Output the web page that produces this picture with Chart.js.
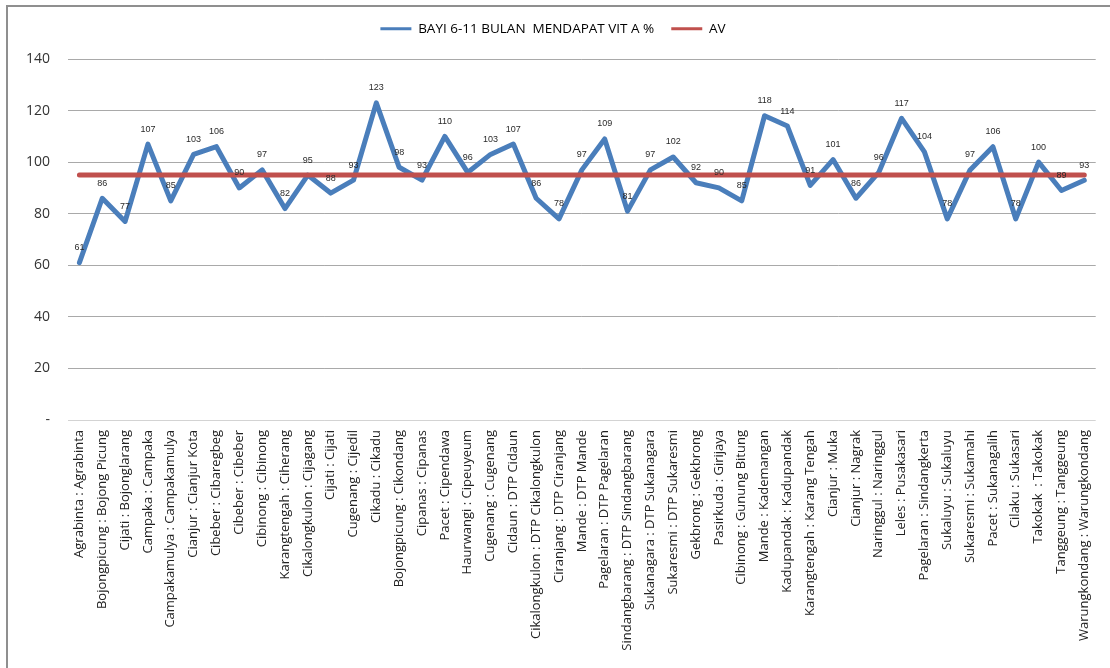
<!DOCTYPE html>
<html>
<head>
<meta charset="utf-8">
<script src="https://cdn.jsdelivr.net/npm/chart.js@4/dist/chart.umd.min.js"></script>
<style>
  html, body { margin: 0; padding: 0; background: #fff; overflow: hidden; }
  #bingkai {
    position: absolute; left: 6px; top: 5px; width: 1120px; height: 680px;
    border-top: 2px solid #8f8f8f; border-left: 2px solid #8f8f8f;
  }
  #grafik { position: absolute; left: 0; top: 0; }
</style>
</head>
<body>
<div id="bingkai"></div>
<canvas id="grafik" width="1110" height="668"></canvas>
<script>
// Puskesmas (kecamatan : puskesmas)
var puskesmas = [
  "Agrabinta : Agrabinta", "Bojongpicung : Bojong Picung", "Cijati : Bojonglarang",
  "Campaka : Campaka", "Campakamulya : Campakamulya", "Cianjur : Cianjur Kota",
  "Cibeber : Cibaregbeg", "Cibeber : Cibeber", "Cibinong : Cibinong",
  "Karangtengah : Ciherang", "Cikalongkulon : Cijagang", "Cijati : Cijati",
  "Cugenang : Cijedil", "Cikadu : Cikadu", "Bojongpicung : Cikondang",
  "Cipanas : Cipanas", "Pacet : Cipendawa", "Haurwangi : Cipeuyeum",
  "Cugenang : Cugenang", "Cidaun : DTP Cidaun", "Cikalongkulon : DTP Cikalongkulon",
  "Ciranjang : DTP Ciranjang", "Mande : DTP Mande", "Pagelaran : DTP Pagelaran",
  "Sindangbarang : DTP Sindangbarang", "Sukanagara : DTP Sukanagara", "Sukaresmi : DTP Sukaresmi",
  "Gekbrong : Gekbrong", "Pasirkuda : Girijaya", "Cibinong : Gunung Bitung",
  "Mande : Kademangan", "Kadupandak : Kadupandak", "Karangtengah : Karang Tengah",
  "Cianjur : Muka", "Cianjur : Nagrak", "Naringgul : Naringgul",
  "Leles : Pusakasari", "Pagelaran : Sindangkerta", "Sukaluyu : Sukaluyu",
  "Sukaresmi : Sukamahi", "Pacet : Sukanagalih", "Cilaku : Sukasari",
  "Takokak  : Takokak", "Tanggeung : Tanggeung", "Warungkondang : Warungkondang"
];

// Cakupan bayi 6-11 bulan mendapat vitamin A (%)
var cakupanVitA = [
  61, 86, 77, 107, 85, 103, 106, 90, 97, 82,
  95, 88, 93, 123, 98, 93, 110, 96, 103, 107,
  86, 78, 97, 109, 81, 97, 102, 92, 90, 85,
  118, 114, 91, 101, 86, 96, 117, 104, 78, 97,
  106, 78, 100, 89, 93
];

// Garis AV (target)
var garisAV = [
  95, 95, 95, 95, 95, 95, 95, 95, 95, 95,
  95, 95, 95, 95, 95, 95, 95, 95, 95, 95,
  95, 95, 95, 95, 95, 95, 95, 95, 95, 95,
  95, 95, 95, 95, 95, 95, 95, 95, 95, 95,
  95, 95, 95, 95, 95
];

var labelSumbuY = ["-", "20", "40", "60", "80", "100", "120", "140"];

var warna = { biru: "#4a7ebb", merah: "#c0504d", grid: "#a9a9a9", gridNol: "#d3d3d3", teks: "#333333" };

// label angka di atas tiap titik garis biru
var labelNilai = {
  id: "labelNilai",
  afterDatasetsDraw: function (chart) {
    var ctx = chart.ctx;
    var meta = chart.getDatasetMeta(0);
    var data = chart.data.datasets[0].data;
    ctx.save();
    ctx.font = "9px 'Liberation Sans', Arial, sans-serif";
    ctx.fillStyle = "#2a2a2a";
    ctx.textAlign = "center";
    ctx.textBaseline = "middle";
    meta.data.forEach(function (titik, i) {
      ctx.fillText(String(data[i]), titik.x, titik.y - 15);
    });
    ctx.restore();
  }
};

// tinggi legenda dibuat tetap
var tinggiLegenda = {
  id: "tinggiLegenda",
  beforeInit: function (chart) {
    var legenda = chart.legend;
    if (!legenda) return;
    var fitAsli = legenda.fit;
    legenda.fit = function () {
      fitAsli.call(this);
      this.height = 54;
    };
  }
};

new Chart(document.getElementById("grafik").getContext("2d"), {
  type: "line",
  data: {
    labels: puskesmas,
    datasets: [{
      label: "BAYI 6-11 BULAN  MENDAPAT VIT A %",
      data: cakupanVitA,
      borderColor: warna.biru,
      backgroundColor: warna.biru,
      borderWidth: 5,
      borderCapStyle: "round",
      borderJoinStyle: "round",
      pointRadius: 0,
      tension: 0,
      order: 1
    }, {
      label: "AV",
      data: garisAV,
      borderColor: warna.merah,
      backgroundColor: warna.merah,
      borderWidth: 5,
      borderCapStyle: "round",
      pointRadius: 0,
      tension: 0,
      order: 0
    }]
  },
  options: {
    responsive: false,
    animation: false,
    layout: { padding: { left: 6, right: 10, top: 5, bottom: 0 } },
    plugins: {
      tooltip: { enabled: false },
      legend: {
        position: "top",
        labels: {
          padding: 17,
          boxWidth: 31,
          boxHeight: 3,
          color: "#222",
          font: { family: "'Open Sans', sans-serif", size: 13.5 },
          generateLabels: function (chart) {
            return chart.data.datasets.map(function (ds, i) {
              return {
                text: ds.label,
                fillStyle: ds.borderColor,
                strokeStyle: ds.borderColor,
                lineWidth: 0,
                datasetIndex: i,
                hidden: false
              };
            });
          }
        }
      }
    },
    scales: {
      x: {
        offset: true,
        grid: { display: false, drawTicks: false },
        border: { display: false },
        ticks: {
          autoSkip: false,
          maxRotation: 90,
          minRotation: 90,
          padding: 10,
          color: "#222",
          font: { family: "'Open Sans', sans-serif", size: 13 }
        },
        afterFit: function (skala) { skala.height = 248; }
      },
      y: {
        min: 0,
        max: 140,
        grid: {
          drawTicks: false,
          color: function (c) { return c.tick && c.tick.value === 0 ? warna.gridNol : warna.grid; },
          lineWidth: 1
        },
        border: { display: false },
        ticks: {
          stepSize: 20,
          padding: 18,
          color: warna.teks,
          font: { family: "'Open Sans', sans-serif", size: 14 },
          callback: function (nilai, idx) { return labelSumbuY[idx]; }
        },
        afterFit: function (skala) { skala.width = 62; }
      }
    }
  },
  plugins: [labelNilai, tinggiLegenda]
});
</script>
</body>
</html>
